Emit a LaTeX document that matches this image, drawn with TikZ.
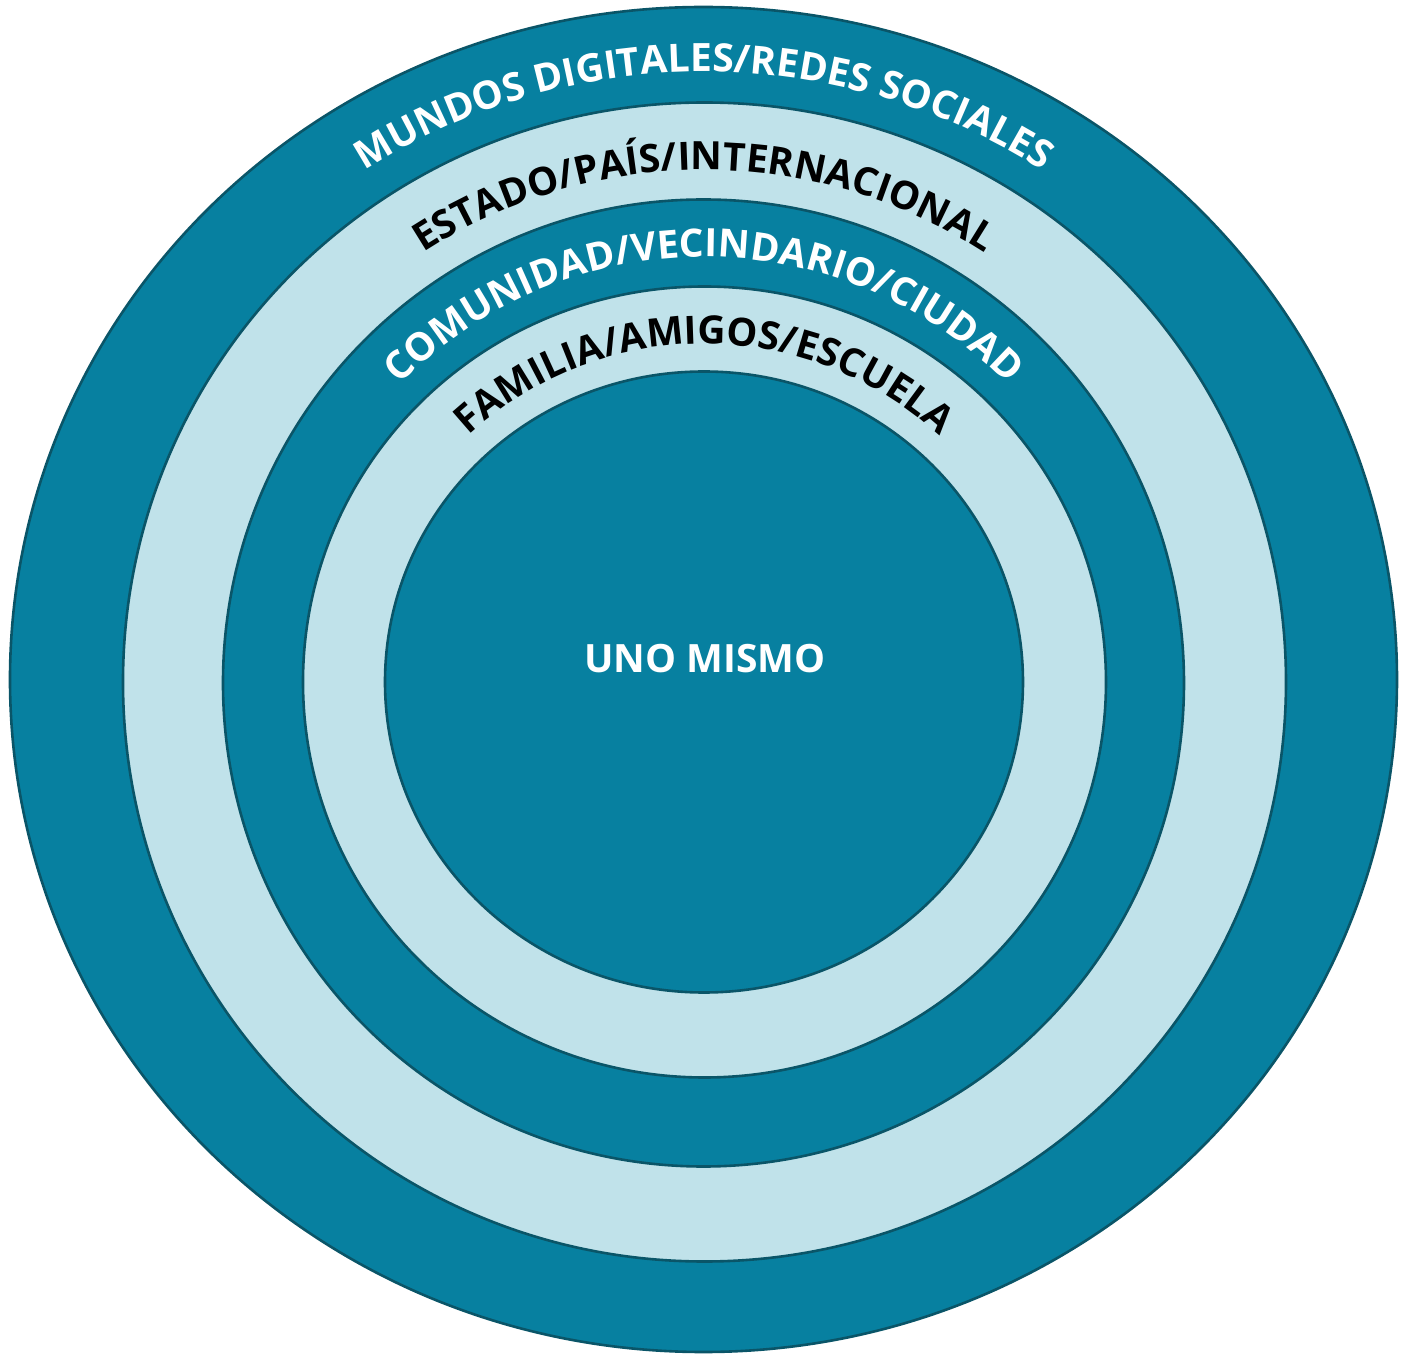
\documentclass[tikz,border=0pt]{standalone}
\usepackage{fontspec}
\setmainfont{Open Sans}
\usetikzlibrary{decorations.text}
\definecolor{ringdark}{HTML}{0780A0}
\definecolor{ringlight}{HTML}{C0E2EA}
\definecolor{ringline}{HTML}{0A5568}
\newcommand\ringfont{\bfseries\fontsize{39}{39}\selectfont}
\begin{document}
\begin{tikzpicture}[x=1pt,y=1pt,
  ring/.style={draw=ringline, line width=2.6pt},
  ringtext/.style n args={3}{decorate, decoration={text along path, text align=center,
     text color=#1, text={|\ringfont|#2}}}]
\useasboundingbox (-704,-672) rectangle (702,682);
\draw[ring, fill=ringdark]  (-0.5,2.5) ellipse [x radius=693.5, y radius=672.5];
\draw[ring, fill=ringlight] (0.5,0)    ellipse [x radius=581.5, y radius=579.5];
\draw[ring, fill=ringdark]  (-0.5,-1)  ellipse [x radius=480.5, y radius=483.5];
\draw[ring, fill=ringlight] (0.5,0)    ellipse [x radius=401.5, y radius=395.5];
\draw[ring, fill=ringdark]  (0,0)      ellipse [x radius=319, y radius=310.5];
\path[ringtext={white}{MUNDOS DIGITALES/REDES SOCIALES}{}]
  (170:622 and 610) arc[start angle=170, end angle=10, x radius=622, y radius=610];
\path[ringtext={black}{ESTADO/PAÍS/INTERNACIONAL}{}]
  (170:514 and 512) arc[start angle=170, end angle=10, x radius=514, y radius=512];
\path[ringtext={white}{COMUNIDAD/VECINDARIO/CIUDAD}{}]
  (170:426 and 425) arc[start angle=170, end angle=10, x radius=426, y radius=425];
\path[ringtext={black}{FAMILIA/AMIGOS/ESCUELA}{}]
  (170:344 and 338) arc[start angle=170, end angle=10, x radius=344, y radius=338];
\node[text=white, font=\ringfont] (self) at (1,23) {UNO MISMO};
\end{tikzpicture}
\end{document}
